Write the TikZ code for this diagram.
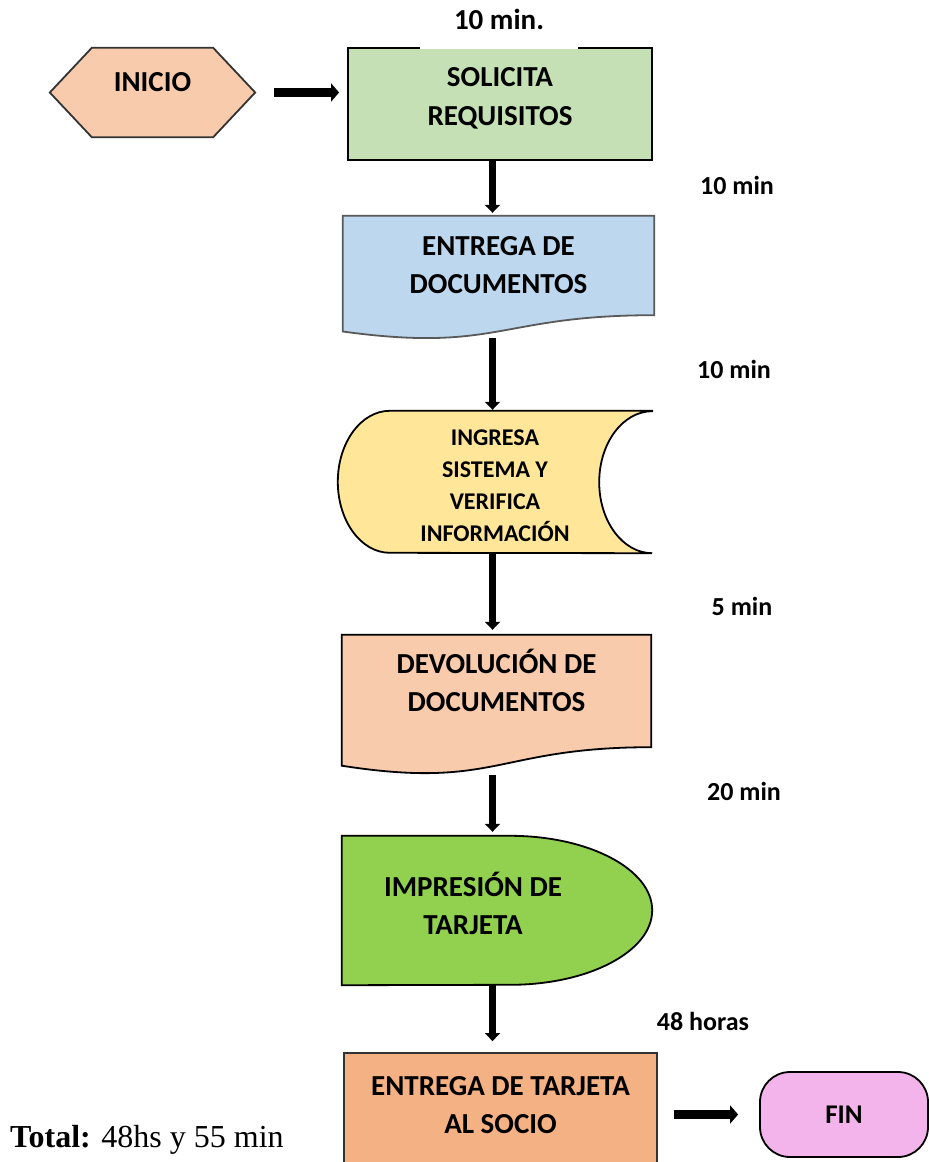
\documentclass[tikz,border=0pt]{standalone}
\usepackage{fontspec}
\setmainfont{Carlito}
\newfontfamily\timesfont{Liberation Serif}
\usetikzlibrary{arrows.meta, backgrounds}
\definecolor{peach}{HTML}{F8CBAD}
\definecolor{solgreen}{HTML}{C5E0B4}
\definecolor{docblue}{HTML}{BDD7EE}
\definecolor{sdyellow}{HTML}{FFE699}
\definecolor{impgreen}{HTML}{92D050}
\definecolor{entorange}{HTML}{F4B183}
\definecolor{finpink}{HTML}{F2B4EA}

\begin{document}
\begin{tikzpicture}[x=1pt, y=1pt, font=\bfseries\fontsize{29}{38}\selectfont,
    box/.style={inner sep=0pt, align=flush center, text height=0pt},
    edge/.style={line width=1.8pt},
    down/.style={line width=7pt, -{Triangle[width=15pt,length=8pt]}},
    side/.style={line width=9pt, -{Triangle[width=18pt,length=8pt]}},
    time/.style={font=\bfseries\fontsize{26}{30}\selectfont}]
    \useasboundingbox (0,0) rectangle (929,-1162);
    \coordinate (spine) at (492.5,0);

    \node[box, minimum width=205pt, minimum height=89pt, text depth=2.4pt] (ini) at (152.5,-92.5) {INICIO};
    \node[box, draw, edge, fill=solgreen, minimum width=304pt, minimum height=112pt, text width=290pt, text depth=35.4pt,
      font=\bfseries\fontsize{29}{39}\selectfont] (sol) at (500,-104) {SOLICITA\\REQUISITOS};
    \node[box, minimum width=311pt, minimum height=99pt, text width=300pt, text depth=20.4pt] (doc) at (498.5,-265.5) {ENTREGA DE\\DOCUMENTOS};
    \node[box, minimum width=314pt, minimum height=142pt, text width=300pt, text depth=72.6pt,
      font=\bfseries\fontsize{24}{32}\selectfont] (sd) at (495,-482) {INGRESA\\SISTEMA Y\\VERIFICA\\INFORMACIÓN};
    \node[box, minimum width=309pt, minimum height=112pt, text width=300pt, text depth=35.4pt] (dev) at (496.5,-691) {DEVOLUCIÓN DE\\DOCUMENTOS};
    \node[box, minimum width=262pt, minimum height=149pt, text width=255pt, text depth=28.4pt] (imp) at (473,-910.5) {IMPRESIÓN DE\\TARJETA};
    \node[box, draw=black!80, edge, fill=entorange, minimum width=313pt, minimum height=112pt, text width=300pt, text depth=27.4pt] (ent) at (500.5,-1109) {ENTREGA DE TARJETA\\AL SOCIO};
    \node[draw, edge, fill=finpink, rounded corners=30pt, minimum width=168pt, minimum height=85pt, font=\bfseries\fontsize{27}{30}\selectfont] (fin) at (844,-1114.5) {FIN};

    % flowchart symbols behind the texts
    \begin{scope}[on background layer]
      \draw[edge, draw=black!80, fill=peach] ([xshift=42pt]ini.north west) -- ([xshift=-42pt]ini.north east) -- (ini.east)
        -- ([xshift=-42pt]ini.south east) -- ([xshift=42pt]ini.south west) -- (ini.west) -- cycle;
      \draw[edge, draw=black!65, fill=docblue] (doc.north west) -- (doc.north east) -- (doc.south east)
        .. controls (doc.south) and ([yshift=-37.7pt]doc.south) .. ([yshift=-16.3pt]doc.south west) -- cycle;
      \draw[edge, fill=sdyellow] (sd.north east) -- ([xshift=52pt]sd.north west)
        arc[start angle=90, end angle=270, x radius=52pt, y radius=71pt] -- (sd.south east)
        arc[start angle=270, end angle=90, x radius=53pt, y radius=71pt] -- cycle;
      \draw[edge, fill=peach] (dev.north west) -- (dev.north east) -- (dev.south east)
        .. controls (dev.south) and ([yshift=-42.7pt]dev.south) .. ([yshift=-18.5pt]dev.south west) -- cycle;
      \draw[edge, fill=impgreen] (imp.north west) -- ([xshift=-94pt]imp.north east)
        arc[start angle=90, end angle=-90, x radius=142pt, y radius=74.5pt] -- (imp.south west) -- cycle;
    \end{scope}

    \node[time, fill=white, anchor=base, inner sep=0pt, text depth=20pt, minimum width=158pt, font=\bfseries\fontsize{29}{30}\selectfont] (t1) at (499,-29) {10 min.};
    \foreach \n/\x/\y/\t in {t2/737/185/10 min, t3/734/369/10 min, t4/742/606/5 min, t5/744/791/20 min, t6/703/1021/48 horas}
      \node[time] (\n) at (\x,-\y) {\t};

    \node[anchor=base west, inner sep=0pt, font=\timesfont\fontsize{32}{36}\selectfont] (total) at (10,-1147) {\textbf{Total:} 48hs y 55 min};

    \draw[side, shorten <=19pt, shorten >=8pt] (ini.east) -- (ini.east -| sol.west);
    \draw[side, shorten <=16pt, shorten >=21pt] (ent.east |- fin) -- (fin.west);
    \foreach \a/\b/\s/\e in {sol/doc/0/3, doc/sd/22.5/1, sd/dev/0/5, dev/imp/28/4, imp/ent/0/11}
      \draw[down, shorten <=\s pt, shorten >=\e pt] (\a.south -| spine) -- (\b.north -| spine);
\end{tikzpicture}
\end{document}
